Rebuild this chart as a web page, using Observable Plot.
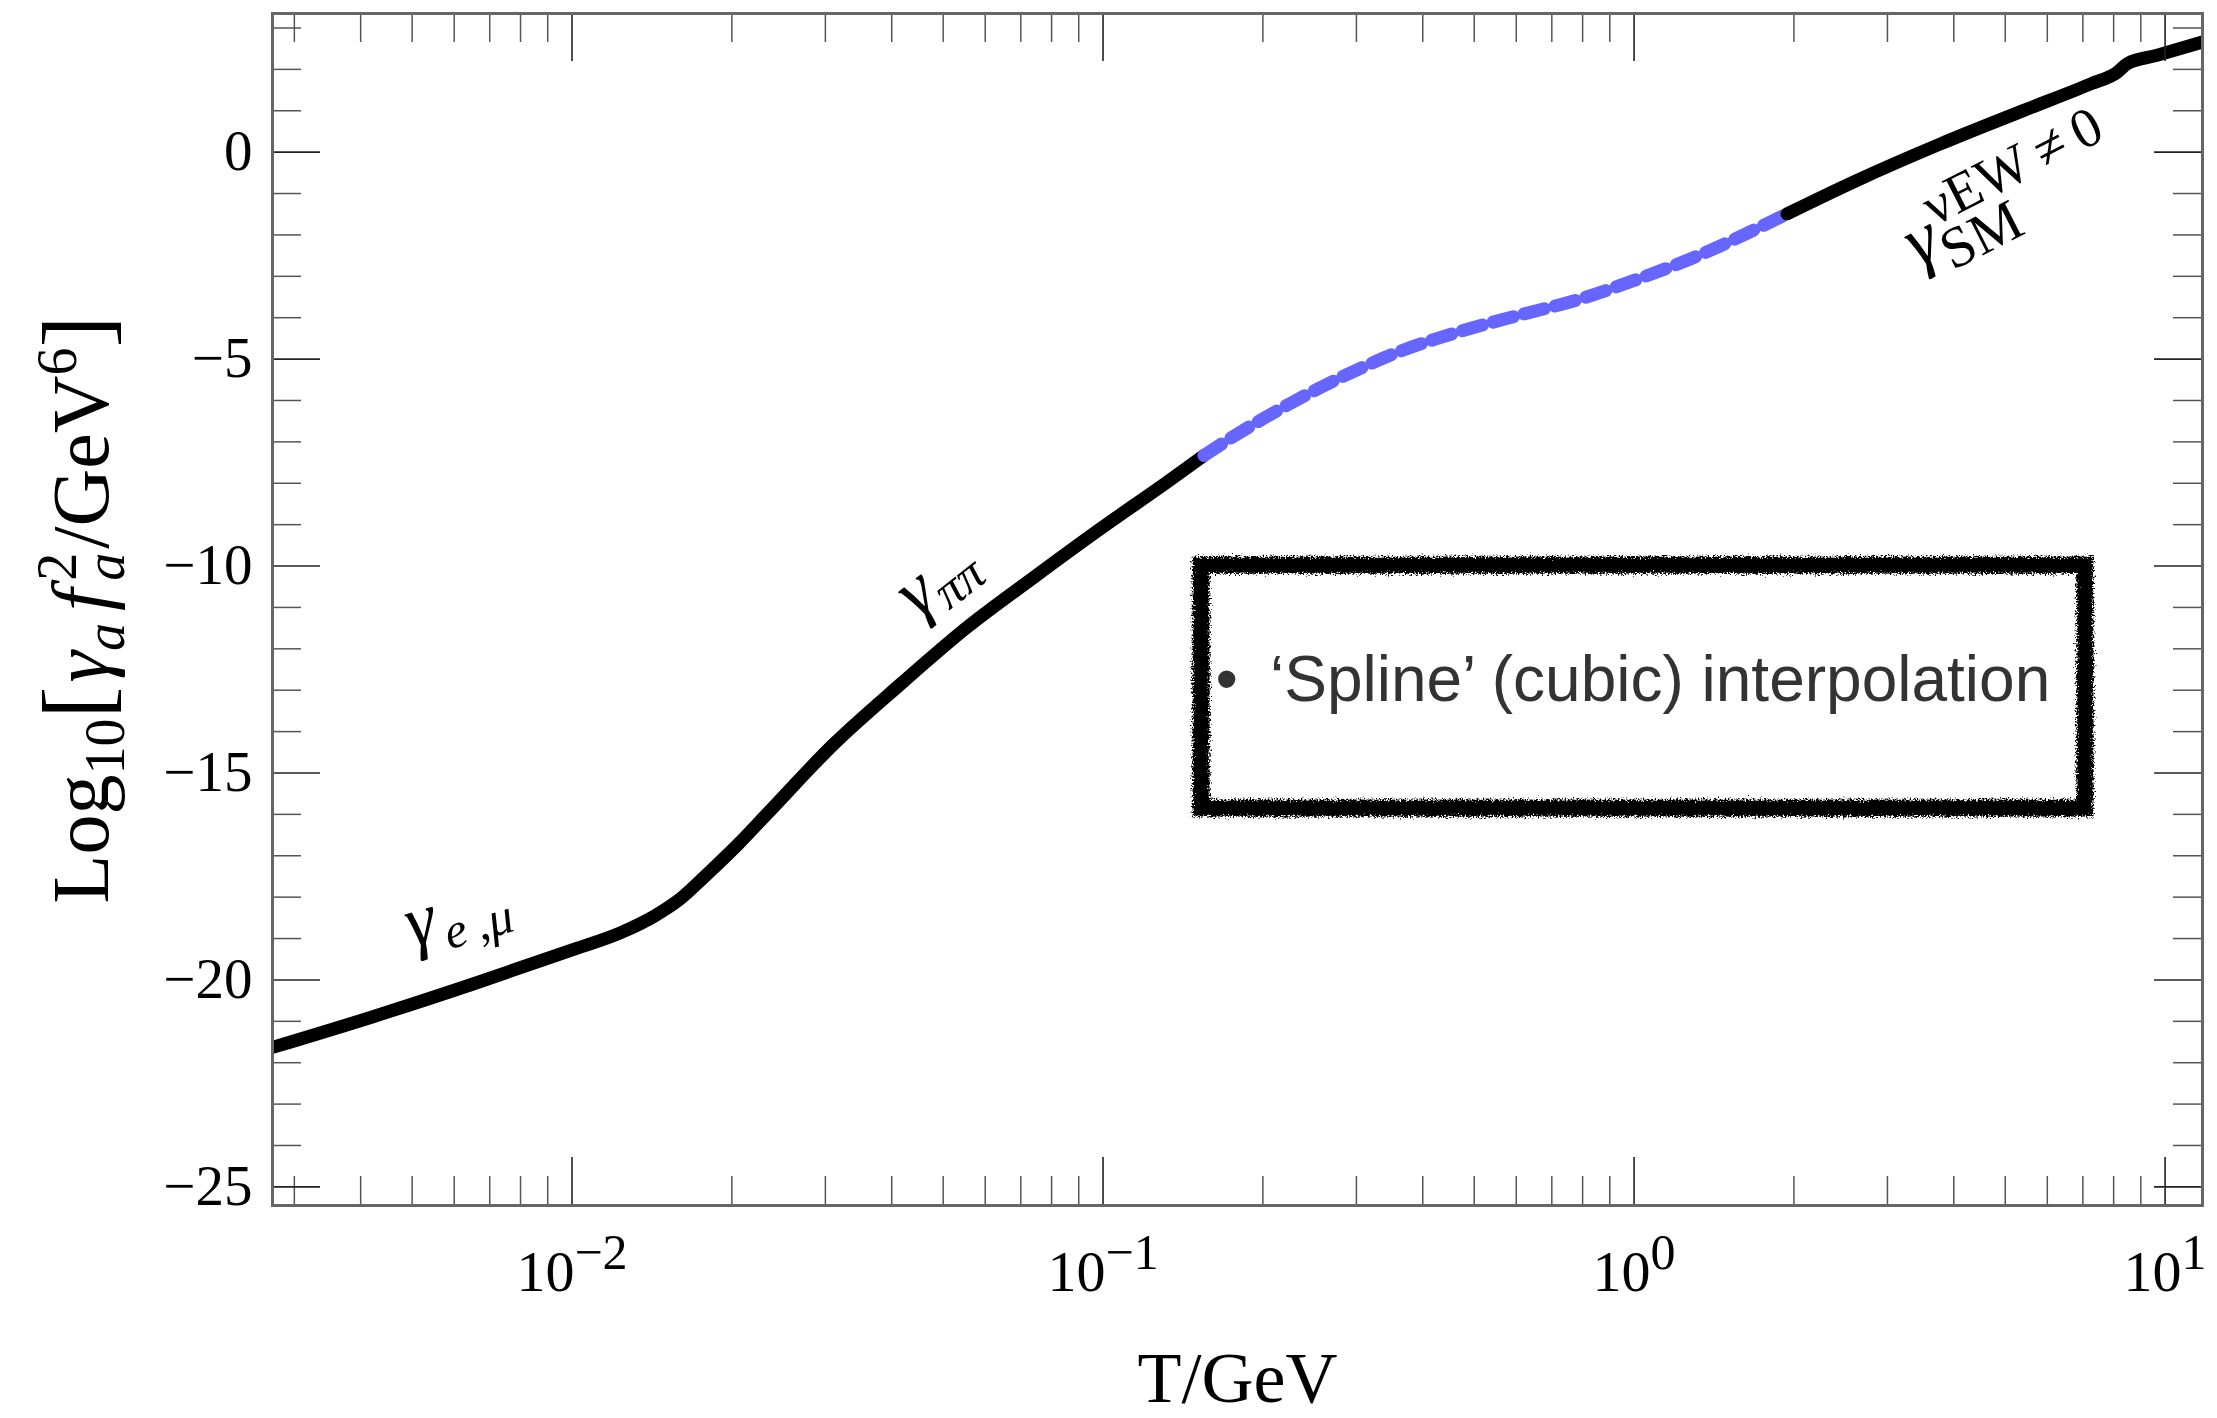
<!DOCTYPE html>
<html>
<head>
<meta charset="utf-8">
<script src="https://cdn.jsdelivr.net/npm/d3@7"></script>
<script src="https://cdn.jsdelivr.net/npm/@observablehq/plot@0.6"></script>
<style>
  html, body { margin: 0; padding: 0; background: #fff; }
  #chart svg { display: block; }
</style>
</head>
<body>
<div id="chart"></div>
<script>
// ---------------- data ----------------
// Low-temperature regime (electrons/muons, then pions): solid black
const lowT   = [0.00273, 0.00419, 0.00647, 0.00998, 0.01239, 0.01432, 0.01585, 0.01778, 0.02056, 0.02333, 0.03112, 0.04159, 0.05546, 0.07413, 0.09886, 0.1321, 0.1549];
const lowLog = [-21.63, -20.90, -20.11, -19.28, -18.85, -18.45, -18.08, -17.50, -16.72, -15.98, -14.30, -12.85, -11.48, -10.27, -9.10, -7.97, -7.33];
// Spline (cubic) interpolation: dashed blue
const splineT   = [0.1549, 0.1791, 0.2254, 0.2884, 0.3631, 0.4710, 0.6026, 0.7816, 1.0, 1.276, 1.941];
const splineLog = [-7.33, -6.81, -6.07, -5.37, -4.81, -4.33, -3.95, -3.57, -3.10, -2.58, -1.49];
// High-temperature SM regime: solid black
const smT   = [1.941, 2.630, 3.776, 5.420, 7.244, 8.128, 8.492, 9.661, 11.75];
const smLog = [-1.49, -0.68, 0.20, 1.01, 1.65, 1.93, 2.14, 2.34, 2.66];

// ticks
const xMajorTicks = [0.01, 0.1, 1, 10];
const xMinorTicks = [0.003, 0.004, 0.005, 0.006, 0.007, 0.008, 0.009,
                     0.02, 0.03, 0.04, 0.05, 0.06, 0.07, 0.08, 0.09,
                     0.2, 0.3, 0.4, 0.5, 0.6, 0.7, 0.8, 0.9,
                     2, 3, 4, 5, 6, 7, 8, 9];
const yMajorTicks = [-25, -20, -15, -10, -5, 0];
const yMinorTicks = [-24, -23, -22, -21, -19, -18, -17, -16, -14, -13, -12, -11,
                     -9, -8, -7, -6, -4, -3, -2, -1, 1, 2, 3];
const xTitle = "T/GeV";
const yTitle = "Log10[γa fa2/GeV6]";

// curve annotations (position in data units)
const labelEmu  = [{T: 0.00500, v: -19.22, text: "γe,μ"}];
const labelPiPi = [{T: 0.04480, v: -11.30, text: "γππ"}];
const labelSM   = [{T: 3.430,   v: -2.80,  text: "γSMνEW≠0"}];

// legend
const legendBox = [{x1: 0.1533, x2: 7.08, y1: -15.86, y2: -9.99}];
const legendEntry = [{T: 0.1629, v: -13.25, label: "•\u2002‘Spline’ (cubic) interpolation"}];

// ---------------- build ----------------
const lowData = lowT.map((T, i) => ({T, v: lowLog[i]}));
const splineData = splineT.map((T, i) => ({T, v: splineLog[i]}));
const smData = smT.map((T, i) => ({T, v: smLog[i]}));

const W = 2217, H = 1418, mL = 272, mR = 15, mT = 13, mB = 213;
const fw = W - mL - mR, fh = H - mT - mB;
const MAJ = 48, MIN = 29;
const serif = "'Liberation Serif', 'Times New Roman', serif";
const fmt = d3.format("d");

const svg = Plot.plot({
  width: W, height: H,
  marginLeft: mL, marginRight: mR, marginTop: mT, marginBottom: mB,
  x: {type: "log", domain: [0.002729, 11.76], axis: null},
  y: {domain: [-25.45, 3.35], axis: null},
  style: {background: "white", color: "black"},
  marks: [
    // legend box
    Plot.rect(legendBox, {x1: "x1", x2: "x2", y1: "y1", y2: "y2", fill: "none", stroke: "black", strokeWidth: 17}),
    Plot.text(legendEntry, {x: "T", y: "v", text: "label", textAnchor: "start", lineAnchor: "bottom",
      fontFamily: "'Liberation Sans', Arial, sans-serif", fontSize: 64, fill: "#333"}),
    // curves
    Plot.line(lowData, {x: "T", y: "v", stroke: "black", strokeWidth: 13, curve: "monotone-x", clip: true}),
    Plot.line(splineData, {x: "T", y: "v", stroke: "#6666ff", strokeWidth: 13, strokeDasharray: "21,11", curve: "monotone-x", clip: true}),
    Plot.line(smData, {x: "T", y: "v", stroke: "black", strokeWidth: 13, curve: "monotone-x", clip: true}),
    // frame ticks (inward, all four sides)
    Plot.tickX(xMajorTicks, {x: d => d, insetTop: fh - MAJ, stroke: "#222", strokeWidth: 1.6}),
    Plot.tickX(xMajorTicks, {x: d => d, insetBottom: fh - MAJ, stroke: "#222", strokeWidth: 1.6}),
    Plot.tickX(xMinorTicks, {x: d => d, insetTop: fh - MIN, stroke: "#555", strokeWidth: 1.5}),
    Plot.tickX(xMinorTicks, {x: d => d, insetBottom: fh - MIN, stroke: "#555", strokeWidth: 1.5}),
    Plot.tickY(yMajorTicks, {y: d => d, insetRight: fw - MAJ, stroke: "#222", strokeWidth: 1.6}),
    Plot.tickY(yMajorTicks, {y: d => d, insetLeft: fw - MAJ, stroke: "#222", strokeWidth: 1.6}),
    Plot.tickY(yMinorTicks, {y: d => d, insetRight: fw - MIN, stroke: "#555", strokeWidth: 1.5}),
    Plot.tickY(yMinorTicks, {y: d => d, insetLeft: fw - MIN, stroke: "#555", strokeWidth: 1.5}),
    Plot.frame({stroke: "#666", strokeWidth: 3}),
    // tick labels
    Plot.text(yMajorTicks, {y: d => d, frameAnchor: "left", textAnchor: "end", lineAnchor: "middle", dx: -20,
      text: d => fmt(d), fontFamily: serif, fontSize: 57, fill: "black"}),
    Plot.text(xMajorTicks, {x: d => d, frameAnchor: "bottom", textAnchor: "middle", lineAnchor: "bottom", dy: 85,
      text: d => "10^" + fmt(Math.round(Math.log10(d))), fontFamily: serif, fontSize: 58, fill: "black"}),
    // axis titles
    Plot.text([xTitle], {frameAnchor: "bottom", dy: 196, lineAnchor: "bottom", textAnchor: "middle",
      text: d => d, fontFamily: serif, fontSize: 72, fill: "black"}),
    Plot.text([yTitle], {frameAnchor: "left", dx: -165, rotate: -90, lineAnchor: "bottom", textAnchor: "middle",
      text: d => d, fontFamily: serif, fontSize: 80, fill: "black"}),
    // curve labels
    Plot.text(labelEmu, {x: "T", y: "v", rotate: -16, text: "text", textAnchor: "start", lineAnchor: "bottom",
      fontFamily: serif, fontSize: 74, fill: "black"}),
    Plot.text(labelPiPi, {x: "T", y: "v", rotate: -38, text: "text", textAnchor: "start", lineAnchor: "bottom",
      fontFamily: serif, fontSize: 74, fill: "black"}),
    Plot.text(labelSM, {x: "T", y: "v", rotate: -27, text: "text", textAnchor: "start", lineAnchor: "bottom",
      fontFamily: serif, fontSize: 74, fill: "black"})
  ]
});

document.getElementById("chart").appendChild(svg);

// ---------------- rich text (sub/superscripts) ----------------
const NS = "http://www.w3.org/2000/svg";
function setRich(el, parts) {
  el.textContent = "";
  const spans = [];
  for (const p of parts) {
    const t = document.createElementNS(NS, "tspan");
    t.textContent = p.t;
    if (p.size) t.setAttribute("font-size", p.size);
    if (p.italic) t.setAttribute("font-style", "italic");
    if (p.dy != null) t.setAttribute("dy", p.dy);
    if (p.dx != null) t.setAttribute("dx", p.dx);
    el.appendChild(t);
    spans.push(t);
  }
  return spans;
}
const allTexts = Array.from(svg.querySelectorAll("text"));
const byContent = (s) => allTexts.filter(el => el.textContent === s);

allTexts.filter(el => el.textContent.includes("^")).forEach(el => {
  const [base, exp] = el.textContent.split("^");
  setRich(el, [{t: base}, {t: exp, size: 50, dy: -22}]);
});

byContent(yTitle).forEach(el => {
  const spans = setRich(el, [
    {t: "Log"},
    {t: "10", size: 56, dy: 16},
    {t: "[", size: 96, dy: -16},
    {t: "γ", italic: true, dx: 4},
    {t: "a", italic: true, size: 56, dy: 16},
    {t: "f", italic: true, dy: -16, dx: 12},
    {t: "2", size: 56, dy: -32, dx: 8},
    {t: "a", italic: true, size: 56, dy: 48},
    {t: "/GeV", dy: -16, dx: 4},
    {t: "6", size: 56, dy: -32},
    {t: "]", size: 96, dy: 32}
  ]);
  spans[7].setAttribute("dx", -spans[6].getComputedTextLength());
});

byContent(labelEmu[0].text).forEach(el => setRich(el, [
  {t: "γ", italic: true},
  {t: "e\u2009,μ", italic: true, size: 50, dy: 12, dx: 6}
]));
byContent(labelPiPi[0].text).forEach(el => setRich(el, [
  {t: "γ", italic: true},
  {t: "ππ", italic: true, size: 50, dy: 12, dx: 1}
]));
byContent(labelSM[0].text).forEach(el => {
  const spans = setRich(el, [
    {t: "γ", italic: true},
    {t: "SM", size: 58, dy: 18},
    {t: "νEW\u2009≠\u20090", size: 56, dy: -48}
  ]);
  spans[2].setAttribute("dx", -spans[1].getComputedTextLength() + 4);
});

// rough, hand-drawn look for the legend box border
const defs = document.createElementNS(NS, "defs");
defs.innerHTML = `
  <filter id="rough" x="-5%" y="-15%" width="110%" height="130%">
    <feTurbulence type="fractalNoise" baseFrequency="0.6" numOctaves="3" seed="7" result="noise"/>
    <feDisplacementMap in="SourceGraphic" in2="noise" scale="10" xChannelSelector="R" yChannelSelector="G"/>
  </filter>`;
svg.insertBefore(defs, svg.firstChild);
const box = Array.from(svg.querySelectorAll("g")).find(g => g.getAttribute("stroke-width") === "17");
if (box) box.setAttribute("filter", "url(#rough)");
</script>
</body>
</html>
